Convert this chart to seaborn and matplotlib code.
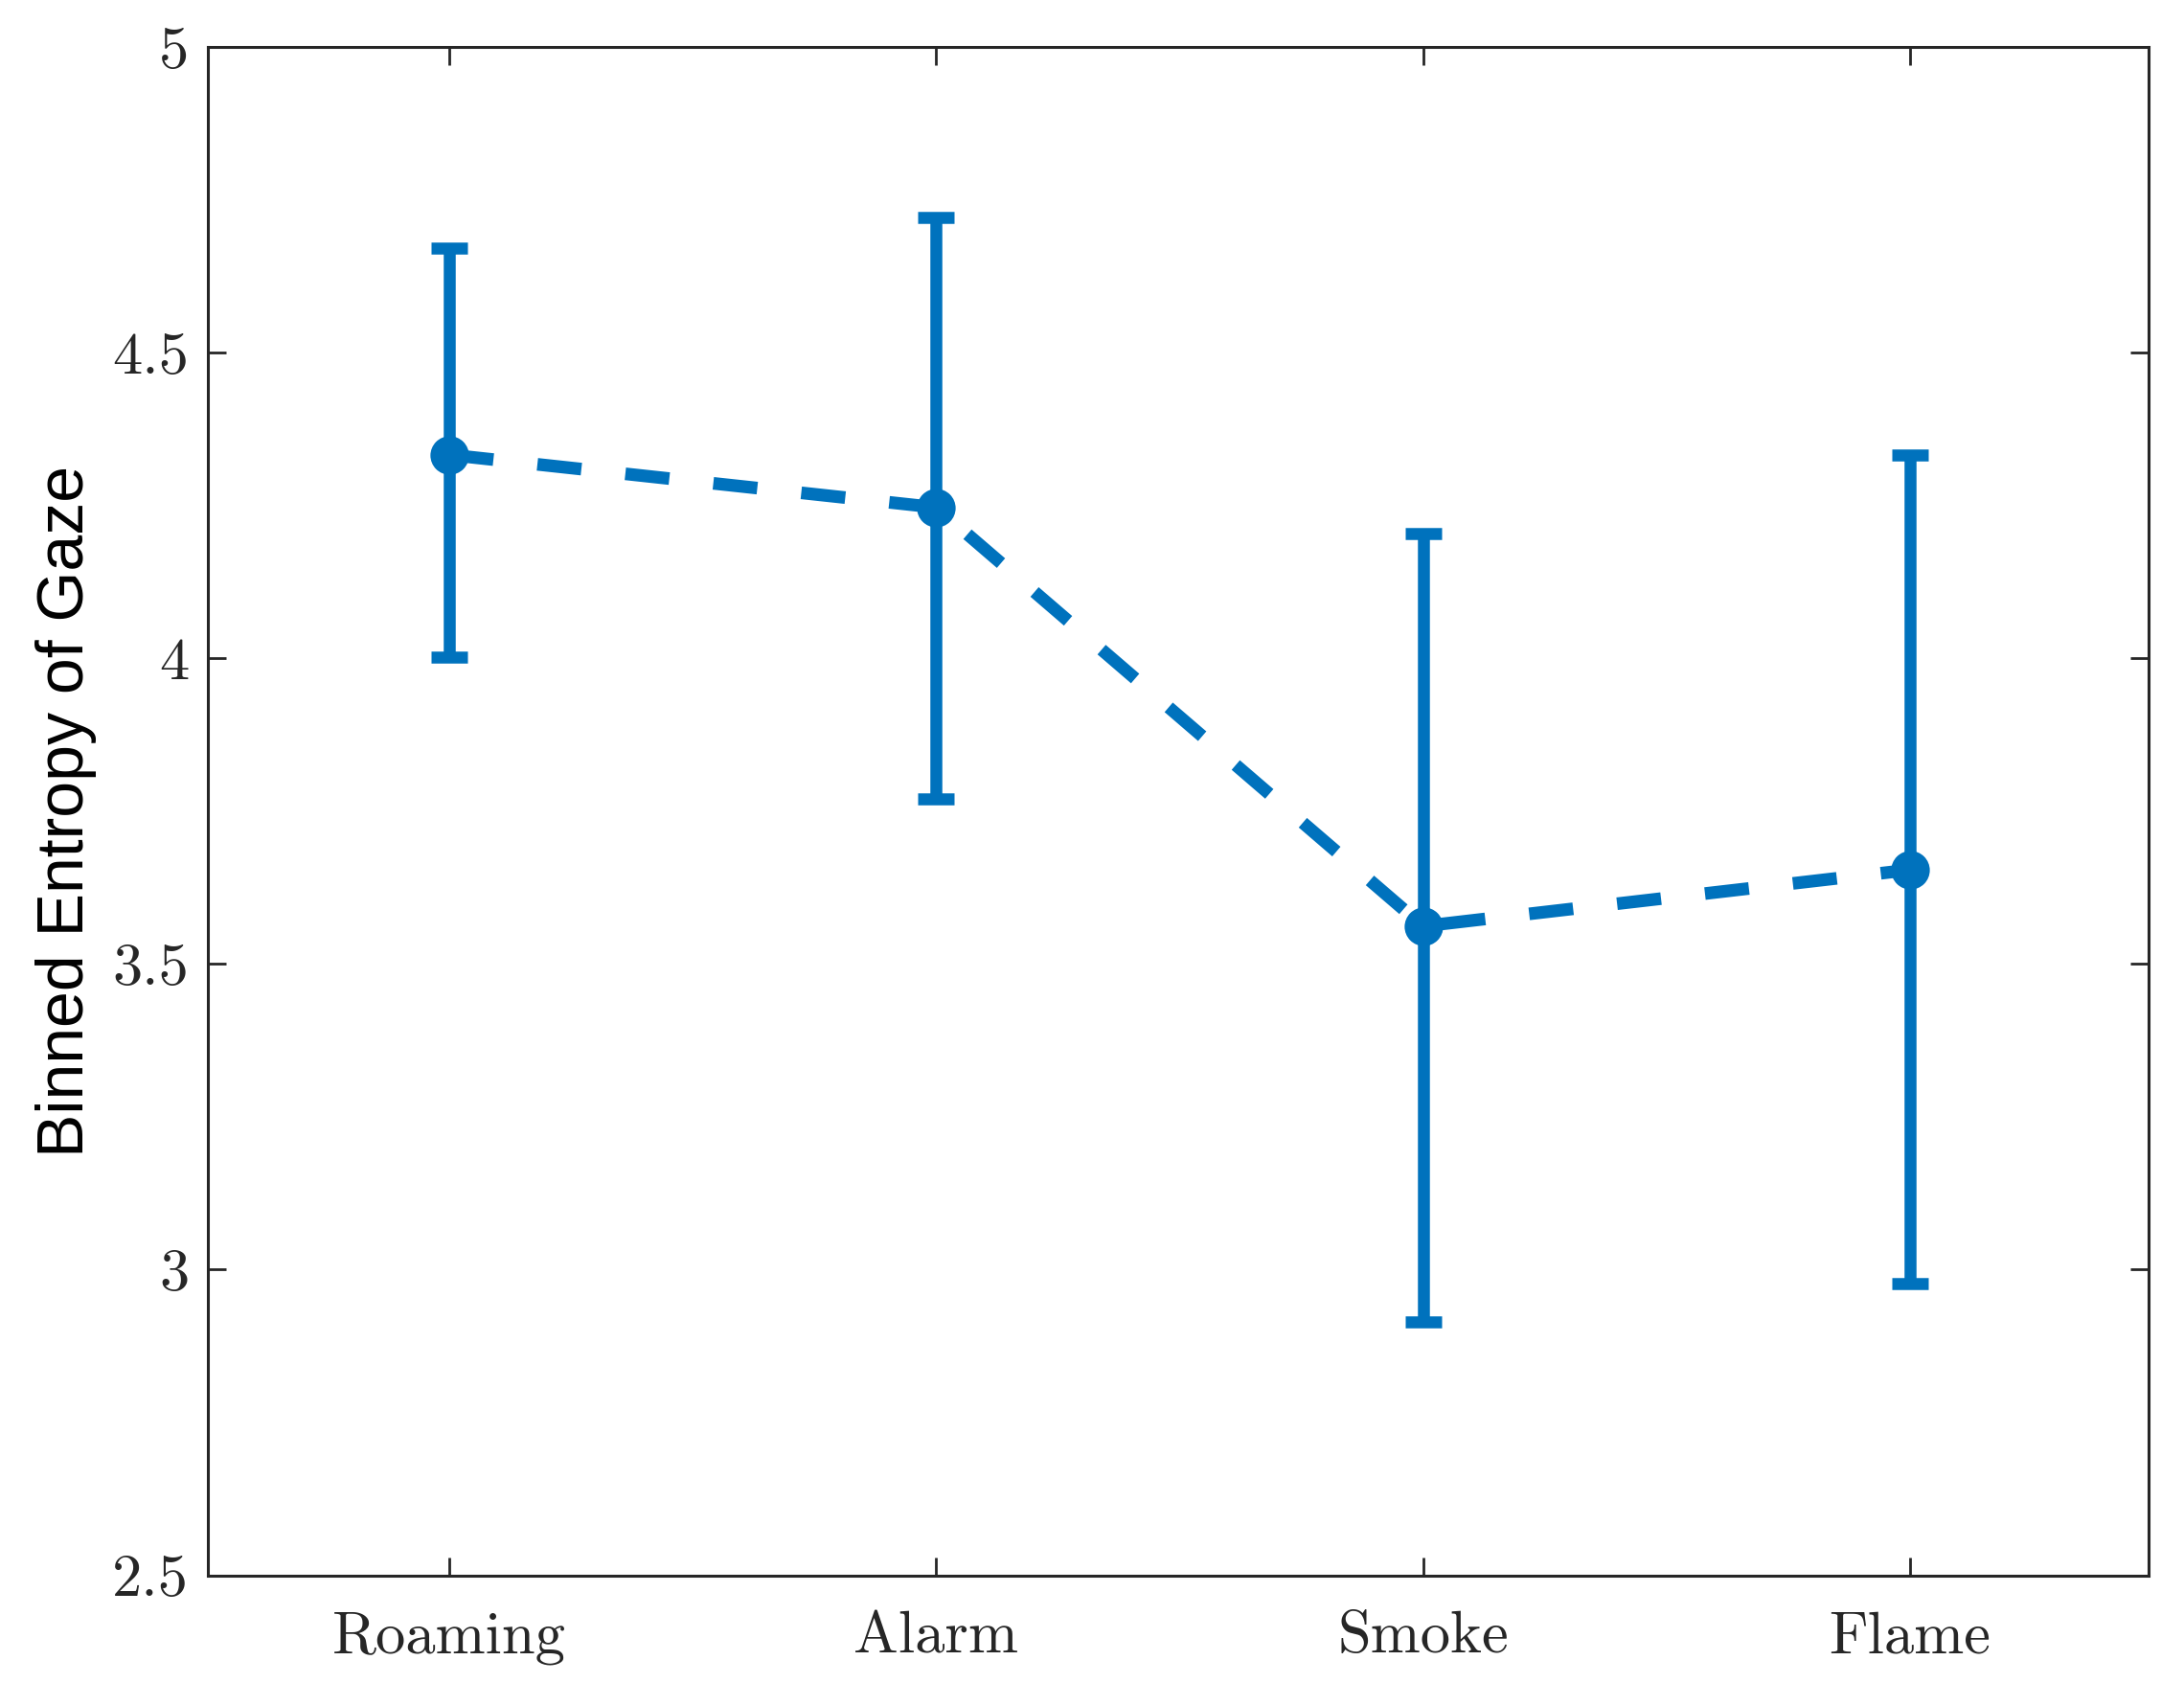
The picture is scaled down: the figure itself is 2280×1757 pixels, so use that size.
import numpy as np
import pandas as pd
import matplotlib
matplotlib.use("Agg")
import matplotlib.pyplot as plt
import seaborn as sns

categories = ["Roaming", "Alarm", "Smoke", "Flame"]
means = [4.333, 4.247, 3.562, 3.654]
upper = [4.671, 4.721, 4.205, 4.333]
lower = [4.002, 3.770, 2.915, 2.977]
yticks = [2.5, 3, 3.5, 4, 4.5, 5]
ytick_labels = ["2.5", "3", "3.5", "4", "4.5", "5"]

color = "#0072BD"
axcol = "#262626"

sns.set_theme(style="white")
plt.rcParams["font.family"] = ["DejaVu Sans"]

fig = plt.figure(figsize=(22.8, 17.57), dpi=100)
ax = fig.add_axes([0.095, 0.064, 0.8887, 0.908])

df = pd.DataFrame({"condition": categories, "entropy": means})
sns.pointplot(data=df, x="condition", y="entropy", errorbar=None,
              color=color, markers="o", linestyles="--", ax=ax)
line = ax.lines[0]
line.set_linewidth(9.5)
line.set_dashes((3.5, 3.5))
line.set_dash_capstyle("butt")
line.set_markersize(29)
line.set_markeredgewidth(0)

m = np.array(means)
yerr = np.vstack([m - np.array(lower), np.array(upper) - m])
ax.errorbar(np.arange(len(categories)), m, yerr=yerr, fmt="none",
            ecolor=color, elinewidth=9, capsize=14, capthick=9, zorder=3)

ax.set_xlim(-0.497, 3.49)
ax.set_ylim(2.5, 5)
ax.set_yticks(yticks)
ax.set_yticklabels(ytick_labels)
ax.set_xlabel("")
ax.set_ylabel("Binned Entropy of Gaze", fontsize=49, family="Liberation Sans",
              labelpad=12, color="black")

for lab in ax.get_xticklabels() + ax.get_yticklabels():
    lab.set_family("cmr10")
    lab.set_fontsize(45)
    lab.set_color(axcol)

ax.tick_params(axis="both", direction="in", length=14, width=2,
               color=axcol, top=True, right=True, bottom=True, left=True)
ax.tick_params(axis="x", pad=27)
ax.tick_params(axis="y", pad=14)
for s in ax.spines.values():
    s.set_visible(True)
    s.set_color(axcol)
    s.set_linewidth(2.2)

fig.savefig("out.png", dpi=100, facecolor="white")
